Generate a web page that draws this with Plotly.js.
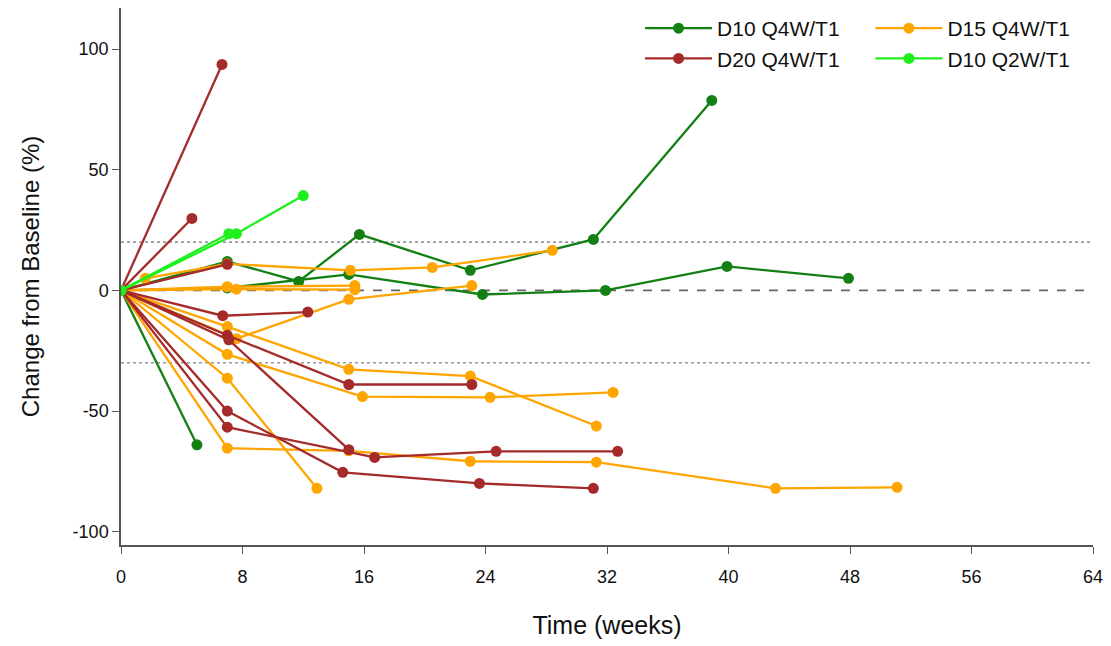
<!DOCTYPE html>
<html>
<head>
<meta charset="utf-8">
<script src="https://cdn.plot.ly/plotly-3.0.1.min.js"></script>
<style>html,body{margin:0;padding:0;background:#fff;}#chart{width:1111px;height:646px;}</style>
</head>
<body>
<div id="chart"></div>
<script>
// ---- Data (weeks, % change from baseline) ----
const seriesNames = ["D10 Q4W/T1", "D15 Q4W/T1", "D20 Q4W/T1", "D10 Q2W/T1"];

// D10 Q4W/T1 patients
const d10q4_t = [
  [0, 5],
  [0, 7, 11.7, 15.7, 23, 31.1, 38.9],
  [0, 7, 15, 23.8, 31.9, 39.9, 47.9]
];
const d10q4_v = [
  [0, -64],
  [0, 12, 3.7, 23.2, 8.3, 21.1, 78.7],
  [0, 1, 6.6, -1.7, 0, 9.9, 5]
];

// D15 Q4W/T1 patients
const d15q4_t = [
  [0, 1.6, 7, 15.1, 20.5, 28.4],
  [0, 7, 15.4],
  [0, 7.6, 15.4],
  [0, 7.6, 15, 23.1],
  [0, 7, 15, 23, 31.3],
  [0, 7, 15.9, 24.3, 32.4],
  [0, 7, 12.9],
  [0, 7, 15, 23, 31.3, 43.1, 51.1]
];
const d15q4_v = [
  [0, 5, 11, 8.3, 9.5, 16.6],
  [0, 1.5, 2],
  [0, 0.5, 0.3],
  [0, -20, -3.7, 2],
  [0, -15, -32.7, -35.5, -56.2],
  [0, -26.5, -44, -44.3, -42.3],
  [0, -36.4, -82],
  [0, -65.4, -66.5, -70.8, -71.2, -82, -81.6]
];

// D20 Q4W/T1 patients
const d20q4_t = [
  [0, 6.65],
  [0, 4.67],
  [0, 7],
  [0, 6.7, 12.3],
  [0, 7, 15, 23.1],
  [0, 7.1, 15],
  [0, 7, 14.6, 23.6, 31.1],
  [0, 7, 16.7, 24.7, 32.7]
];
const d20q4_v = [
  [0, 93.6],
  [0, 29.8],
  [0, 10.8],
  [0, -10.5, -9],
  [0, -18.6, -39, -39],
  [0, -20.5, -66],
  [0, -50, -75.4, -80, -82],
  [0, -56.7, -69.2, -66.7, -66.7]
];

// D10 Q2W/T1 patients
const d10q2_t = [
  [0, 7.6, 12],
  [0, 7.1]
];
const d10q2_v = [
  [0, 23.5, 39.3],
  [0, 23.5]
];

const refLines = [0, 20, -30];
const xTicks = [0, 8, 16, 24, 32, 40, 48, 56, 64];
const yTicks = [-100, -50, 0, 50, 100];

// ---- Build traces ----
const colors = ["#138013", "#FFA500", "#A52A2A", "#1EF01E"];
const legendOf = ["legend", "legend2", "legend", "legend2"];
const groups = [
  [d10q4_t, d10q4_v],
  [d15q4_t, d15q4_v],
  [d20q4_t, d20q4_v],
  [d10q2_t, d10q2_v]
];
const traces = [];
[0, 1, 2, 3].forEach(function (g) {
  const ts = groups[g][0], vs = groups[g][1];
  ts.forEach(function (t, i) {
    traces.push({
      type: "scatter",
      mode: "lines+markers",
      x: t,
      y: vs[i],
      name: seriesNames[g],
      legendgroup: seriesNames[g],
      legend: legendOf[g],
      showlegend: i === 0,
      line: {color: colors[g], width: 2.3},
      marker: {color: colors[g], size: 11},
      hoverinfo: "x+y+name"
    });
  });
});

const shapes = refLines.map(function (v) {
  return {
    type: "line", xref: "paper", x0: 0, x1: 1, yref: "y", y0: v, y1: v,
    line: {color: v === 0 ? "#666" : "#999", width: 1.6, dash: v === 0 ? "dash" : "dot"},
    layer: "below"
  };
});

const legendCommon = {
  orientation: "v",
  y: 1.0, yanchor: "top",
  font: {size: 21, color: "#111"},
  bgcolor: "rgba(0,0,0,0)",
  tracegroupgap: 0,
  itemwidth: 67,
  traceorder: "normal"
};

const layout = {
  width: 1111,
  height: 646,
  paper_bgcolor: "#fff",
  plot_bgcolor: "#fff",
  margin: {l: 121, r: 18, t: 8, b: 101},
  font: {family: "Arial, 'Liberation Sans', sans-serif", color: "#111"},
  showlegend: true,
  legend: Object.assign({}, legendCommon, {x: 0.534, xanchor: "left"}),
  legend2: Object.assign({}, legendCommon, {x: 0.771, xanchor: "left"}),
  xaxis: {
    range: [0, 64],
    tickvals: xTicks,
    ticktext: xTicks.map(String),
    showgrid: false,
    zeroline: false,
    showline: true,
    linecolor: "#555",
    linewidth: 1.5,
    ticks: "outside",
    ticklen: 7,
    tickcolor: "#555",
    ticklabelstandoff: 8,
    tickfont: {size: 18, color: "#111"},
    title: {text: "Time (weeks)", font: {size: 25, color: "#111"}, standoff: 30},
    automargin: false
  },
  yaxis: {
    range: [-105.5, 117],
    tickvals: yTicks,
    ticktext: yTicks.map(String),
    showgrid: false,
    zeroline: false,
    showline: true,
    linecolor: "#555",
    linewidth: 1.5,
    ticks: "outside",
    ticklen: 7,
    tickcolor: "#555",
    tickfont: {size: 18, color: "#111"},
    title: {text: "Change from Baseline (%)", font: {size: 24, color: "#111"}, standoff: 26},
    automargin: false
  },
  shapes: shapes
};

Plotly.newPlot("chart", traces, layout, {displayModeBar: false});
</script>
</body>
</html>
